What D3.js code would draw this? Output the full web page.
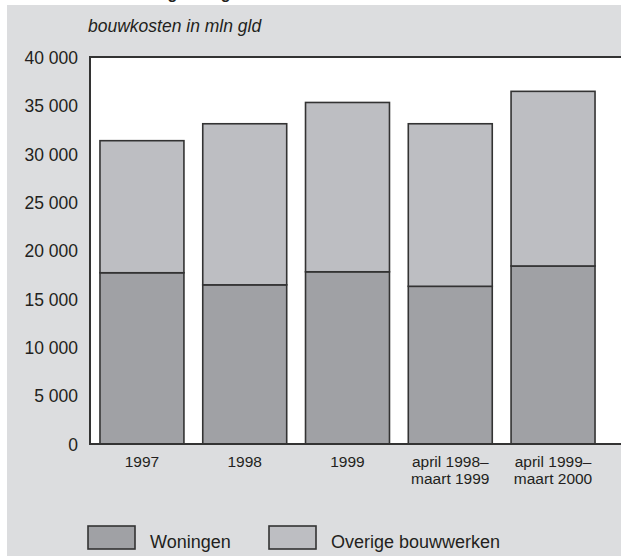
<!DOCTYPE html>
<html><head><meta charset="utf-8">
<script src="https://cdn.jsdelivr.net/npm/d3@7/dist/d3.min.js"></script>
<style>body{margin:0;background:#fff}svg{display:block}text{font-family:"Liberation Sans",Arial,sans-serif;fill:#231f20}</style>
</head><body><svg id="c" width="621" height="556"></svg>
<script>
const categories = [["1997"],["1998"],["1999"],["april 1998–","maart 1999"],["april 1999–","maart 2000"]];
const woningen = [17700, 16450, 17800, 16300, 18400];
const overige = [13650, 16650, 17500, 16800, 18050];
const yTicks = [0, 5000, 10000, 15000, 20000, 25000, 30000, 35000, 40000];
const seriesNames = ["Woningen", "Overige bouwwerken"];
const colors = ["#a0a1a5", "#bdbec2"];

const svg = d3.select("#c");
svg.append("text").attr("x",40).attr("y",-1).attr("font-size",16).attr("font-weight","bold").text("Waarde bouwvergunningen");
svg.append("rect").attr("x",7).attr("y",5).attr("width",614).attr("height",551).attr("fill","#dcdddf");

const L=90, T=57, B=444, R=621;
const x = d3.scaleBand().domain(d3.range(categories.length)).range([L,605]).paddingInner(0.183).paddingOuter(0.097);
const y = d3.scaleLinear().domain([0,40000]).range([B,T]);

svg.append("rect").attr("x",L).attr("y",T).attr("width",R-L+5).attr("height",B-T).attr("fill","#fff").attr("stroke","#333").attr("stroke-width",2);

svg.append("text").attr("x",88).attr("y",32).attr("font-size",17.5).attr("font-style","italic").text("bouwkosten in mln gld");

const fmt = v => d3.format(",")(v).replace(/,/g," ");
const yAxis = d3.axisLeft(y).tickValues(yTicks).tickSize(0).tickPadding(12).tickFormat(fmt);
const ga = svg.append("g").attr("transform",`translate(${L},0)`).call(yAxis);
ga.select(".domain").remove();
ga.selectAll("text").attr("font-size",17.5).attr("font-family","Liberation Sans, Arial, sans-serif").attr("fill","#231f20").attr("dy","0.36em");

const stack = d3.stack().keys([0,1])(categories.map((c,i)=>({0:woningen[i],1:overige[i]})));
stack.forEach((s,si)=>{
  svg.append("g").selectAll("rect").data(s).join("rect")
    .attr("x",(d,i)=>x(i)).attr("width",x.bandwidth())
    .attr("y",d=>y(d[1])).attr("height",d=>y(d[0])-y(d[1]))
    .attr("fill",colors[si]).attr("stroke","#333").attr("stroke-width",1.6);
});
svg.append("line").attr("x1",L).attr("x2",R).attr("y1",B).attr("y2",B).attr("stroke","#333").attr("stroke-width",2);

categories.forEach((lines,i)=>{
  const t = svg.append("text").attr("x",x(i)+x.bandwidth()/2).attr("y",467).attr("font-size",15.5).attr("text-anchor","middle");
  lines.forEach((ln,j)=>t.append("tspan").attr("x",x(i)+x.bandwidth()/2).attr("dy",j?16.5:0).text(ln));
});

const legX = [88, 269];
seriesNames.forEach((n,i)=>{
  svg.append("rect").attr("x",legX[i]).attr("y",526).attr("width",47).attr("height",23).attr("fill",colors[i]).attr("stroke","#333").attr("stroke-width",1.6);
  svg.append("text").attr("x",legX[i]+62).attr("y",548).attr("font-size",18).text(n);
});
</script></body></html>
